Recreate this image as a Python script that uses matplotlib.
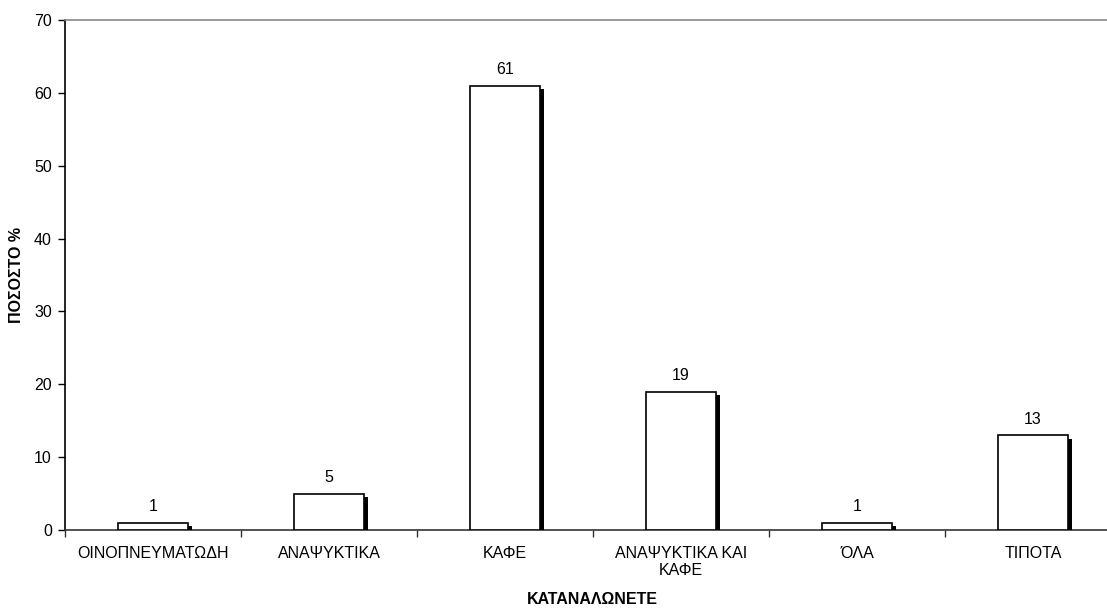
import matplotlib.pyplot as plt
import matplotlib.patheffects as pe
import numpy as np

plt.rcParams['font.family'] = ['Liberation Sans', 'DejaVu Sans']

categories = ['ΟΙΝΟΠΝΕΥΜΑΤΩΔΗ', 'ΑΝΑΨΥΚΤΙΚΑ', 'ΚΑΦΕ', 'ΑΝΑΨΥΚΤΙΚΑ ΚΑΙ\nΚΑΦΕ', 'ΌΛΑ', 'ΤΙΠΟΤΑ']
values = [1, 5, 61, 19, 1, 13]

fig = plt.figure(figsize=(11.07, 6.08), dpi=100)
ax = fig.add_axes([65 / 1107, 78 / 608, 1056 / 1107, 510 / 608])

x = np.arange(len(categories))
# white bars with a solid drop shadow on the right
shadow = [pe.SimplePatchShadow(offset=(2.8, -2.4), shadow_rgbFace='black', alpha=1.0), pe.Normal()]
bars = ax.bar(x, values, width=0.40, color='white', edgecolor='black', linewidth=1.2,
              path_effects=shadow, zorder=3)

for xi, v in zip(x, values):
    ax.annotate(str(v), (xi, v), xytext=(0, 6), textcoords='offset points',
                ha='center', va='bottom', fontsize=11.5)

ax.set_xlim(-0.5, len(categories) - 0.5)
ax.set_ylim(0, 70)
ax.set_yticks(range(0, 71, 10))
ax.set_xticks(x)
ax.set_xticklabels(categories, fontsize=11.5)
ax.tick_params(axis='x', which='major', length=0, pad=11.5)
ax.set_xticks(np.arange(-0.5, len(categories), 1), minor=True)
ax.tick_params(axis='x', which='minor', length=5, width=1, color='#333333')
ax.tick_params(axis='y', length=5, width=1, labelsize=11.5, pad=4.5)

ax.spines['right'].set_visible(False)
ax.spines['top'].set_color('#888888')
ax.spines['top'].set_linewidth(1.2)
ax.spines['left'].set_linewidth(1.2)
ax.spines['bottom'].set_color('#333333')
ax.spines['bottom'].set_linewidth(1.2)

fig.text(17 / 1107, 1 - 275 / 608, 'ΠΟΣΟΣΤΟ %', rotation=90, ha='center', va='center',
         fontsize=11.5, fontweight='bold')
fig.text(592 / 1107, 1 - 600 / 608, 'ΚΑΤΑΝΑΛΩΝΕΤΕ', ha='center', va='center',
         fontsize=11.5, fontweight='bold')

fig.savefig('out.png', dpi=100)
